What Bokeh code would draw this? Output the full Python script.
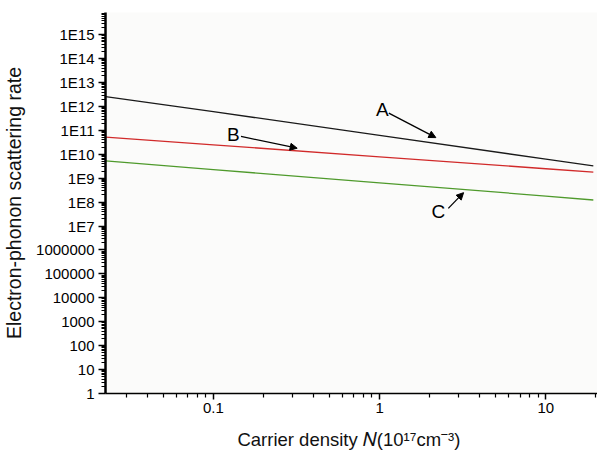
from bokeh.plotting import figure
from bokeh.models import FixedTicker, CustomJSTickFormatter, Label, Arrow, NormalHead
from bokeh.embed import file_html
from bokeh.resources import INLINE

# ---- data ----
carrier_density = [0.0225, 0.1, 1.0, 10.0, 19.3]
rate_A = [2.6e12, 6.1e11, 6.2e10, 6.3e9, 3.3e9]
rate_B = [5.2e10, 2.5e10, 7.9e9, 2.5e9, 1.8e9]
rate_C = [5.3e9, 2.3e9, 6.4e8, 1.8e8, 1.23e8]

x_tick_values = [0.1, 1, 10]
x_tick_labels = ["0.1", "1", "10"]
y_tick_values = [1, 1e1, 1e2, 1e3, 1e4, 1e5, 1e6, 1e7, 1e8, 1e9, 1e10,
                 1e11, 1e12, 1e13, 1e14, 1e15]
y_tick_labels = ["1", "10", "100", "1000", "10000", "100000", "1000000",
                 "1E7", "1E8", "1E9", "1E10", "1E11", "1E12", "1E13",
                 "1E14", "1E15"]
x_title = "Carrier density  \U0001D441(10\u00b9\u2077cm\u207b\u00b3)"
y_title = "Electron-phonon scattering rate"

# annotation anchors (data coords): label, text pos, arrow start, arrow end
ann_names = ["A", "B", "C"]
ann_text_x = [1.04, 0.132, 2.26]
ann_text_y = [7.4e11, 6.5e10, 4.0e7]
ann_arrow_x0 = [1.136, 0.1467, 2.59]
ann_arrow_y0 = [5.25e11, 5.6e10, 5.5e7]
ann_arrow_x1 = [2.18, 0.3194, 3.20]
ann_arrow_y1 = [5.0e10, 1.8e10, 2.5e8]

FONT = "Liberation Sans"

p = figure(width=597, height=454, x_axis_type="log", y_axis_type="log",
           x_range=(0.02246, 20.45), y_range=(1, 10 ** 15.93),
           output_backend="svg", toolbar_location=None,
           min_border_left=100, min_border_right=0, min_border_top=12,
           min_border_bottom=61)
p.outline_line_color = None
p.grid.visible = False
p.background_fill_color = "#fbfbfa"
p.border_fill_color = "white"

minor_x = [m * 0.01 for m in range(3, 10)] + [m * 0.1 for m in range(2, 10)] + \
          [float(m) for m in range(2, 10)] + [20.0]
minor_y = [m * 10.0 ** k for k in range(0, 16) for m in range(2, 10)]

xa = p.xaxis[0]
xa.ticker = FixedTicker(ticks=x_tick_values, minor_ticks=minor_x)
xa.formatter = CustomJSTickFormatter(args=dict(vals=x_tick_values, labels=x_tick_labels), code="""
let best = 0, bd = Infinity;
for (let i = 0; i < vals.length; i++) {
  const d = Math.abs(Math.log10(vals[i]) - Math.log10(tick));
  if (d < bd) { bd = d; best = i; }
}
return labels[best];
""")
xa.axis_line_width = 1.5
xa.axis_line_color = "black"
xa.major_tick_line_color = "black"
xa.minor_tick_line_color = "black"
xa.major_tick_in = 0
xa.major_tick_out = 6
xa.minor_tick_in = 0
xa.minor_tick_out = 4
xa.major_tick_line_width = 1.5
xa.minor_tick_line_width = 1.2
xa.major_label_text_font = FONT
xa.major_label_text_font_size = "15px"
xa.major_label_text_color = "black"
xa.major_label_standoff = 3
xa.axis_label = x_title
xa.axis_label_text_font = FONT
xa.axis_label_text_font_size = "18.5px"
xa.axis_label_text_font_style = "normal"
xa.axis_label_text_color = "#111111"
xa.axis_label_standoff = 13

ya = p.yaxis[0]
ya.ticker = FixedTicker(ticks=y_tick_values, minor_ticks=minor_y)
ya.formatter = CustomJSTickFormatter(args=dict(labels=y_tick_labels), code="""
const i = Math.round(Math.log10(tick));
return labels[i];
""")
ya.axis_line_width = 2.5
ya.axis_line_color = "black"
ya.major_tick_line_color = "black"
ya.minor_tick_line_color = "black"
ya.major_tick_in = 0
ya.major_tick_out = 7
ya.minor_tick_in = 0
ya.minor_tick_out = 4
ya.major_tick_line_width = 1.5
ya.minor_tick_line_width = 1.2
ya.major_label_text_font = FONT
ya.major_label_text_font_size = "15px"
ya.major_label_text_color = "black"
ya.major_label_standoff = 4
ya.axis_label = y_title
ya.axis_label_text_font = FONT
ya.axis_label_text_font_size = "19.5px"
ya.axis_label_text_font_style = "normal"
ya.axis_label_text_color = "#111111"
ya.axis_label_standoff = 8

p.line(carrier_density, rate_A, line_color="#1a1a1a", line_width=1.3)
p.line(carrier_density, rate_B, line_color="#d12a2a", line_width=1.3)
p.line(carrier_density, rate_C, line_color="#4f9a2c", line_width=1.3)

for name, tx, ty, x0, y0, x1, y1 in zip(ann_names, ann_text_x, ann_text_y,
                                         ann_arrow_x0, ann_arrow_y0,
                                         ann_arrow_x1, ann_arrow_y1):
    p.add_layout(Label(x=tx, y=ty, text=name, text_font=FONT,
                       text_font_size="19px", text_align="center",
                       text_baseline="middle", text_color="black"))
    p.add_layout(Arrow(x_start=x0, y_start=y0, x_end=x1, y_end=y1,
                       line_color="black", line_width=1.3,
                       end=NormalHead(size=7, fill_color="black",
                                      line_color="black", line_width=1)))

open("out.html", "w").write(file_html(p, INLINE))
